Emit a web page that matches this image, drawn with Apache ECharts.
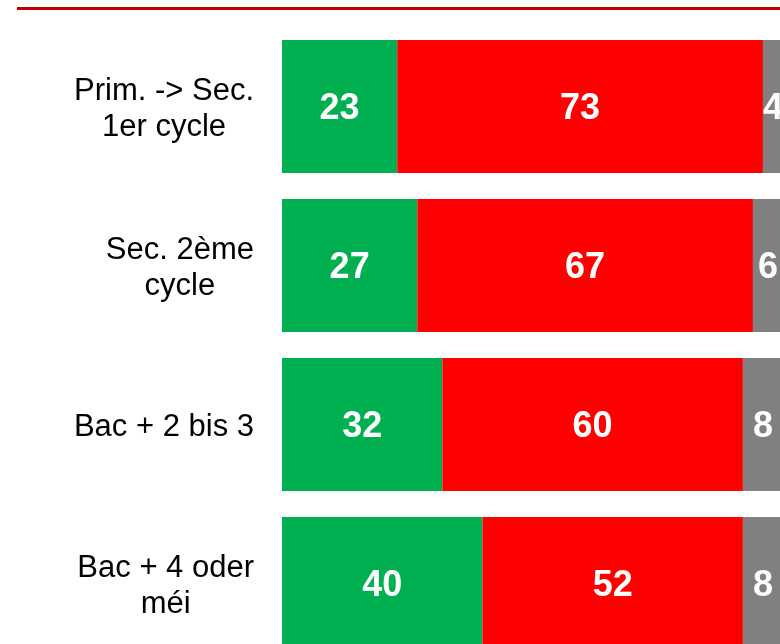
<!DOCTYPE html>
<html>
<head>
<meta charset="utf-8">
<script src="https://cdn.jsdelivr.net/npm/echarts@6/dist/echarts.min.js"></script>
<style>
  html, body { margin: 0; padding: 0; background: #fff; }
  #chart { width: 780px; height: 644px; }
</style>
</head>
<body>
<div id="chart"></div>
<script>
// categories (top to bottom)
var categories = ['Prim. -> Sec.\n1er cycle', 'Sec. 2ème\ncycle', 'Bac + 2 bis 3', 'Bac + 4 oder\nméi']
var greenVals = [23, 27, 32, 40]
var redVals = [73, 67, 60, 52]
var greyVals = [4, 6, 8, 8]

var myChart = echarts.init(document.getElementById('chart'))

function barSeries(name, data, color) {
  return {
    name: name,
    type: 'bar',
    stack: 'total',
    barWidth: 133,
    data: data,
    itemStyle: { color: color },
    label: {
      show: true,
      position: 'inside',
      offset: [0, 3],
      color: '#fff',
      fontWeight: 'bold',
      fontSize: 36,
      fontFamily: 'Liberation Sans'
    }
  }
}

var option = {
  animation: false,
  graphic: [{
    type: 'line',
    shape: { x1: 17, y1: 8.5, x2: 780, y2: 8.5 },
    style: { stroke: '#c00000', lineWidth: 3 }
  }],
  grid: {
    left: 282,
    top: 27,
    width: 501,
    height: 636,
    outerBoundsMode: 'none'
  },
  xAxis: {
    type: 'value',
    min: 0,
    max: 100,
    show: false
  },
  yAxis: {
    type: 'category',
    inverse: true,
    data: categories,
    axisLine: { show: false },
    axisTick: { show: false },
    axisLabel: {
      margin: 28,
      align: 'right',
      color: '#000',
      fontSize: 31,
      lineHeight: 36,
      padding: [6, 0, 0, 0],
      fontFamily: 'Liberation Sans',
      // lines centred inside the right-aligned block
      formatter: function (v) {
        return v.split('\n').map(function (s) { return '{c|' + s + '}' }).join('\n')
      },
      rich: {
        c: { align: 'center', fontSize: 31, lineHeight: 36, color: '#000', fontFamily: 'Liberation Sans' }
      }
    }
  },
  series: [
    barSeries('green', greenVals, '#00b050'),
    barSeries('red', redVals, '#ff0000'),
    barSeries('grey', greyVals, '#808080')
  ]
}
myChart.setOption(option)
</script>
</body>
</html>
